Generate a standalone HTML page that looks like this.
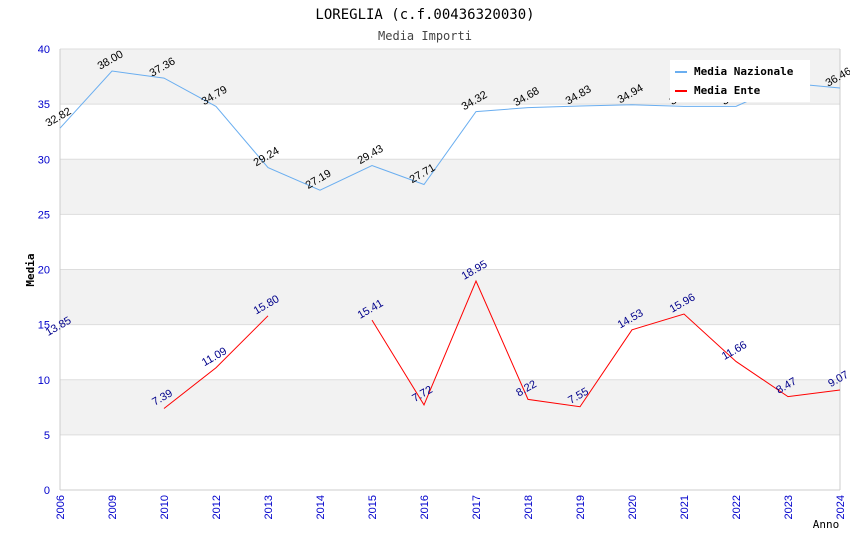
<!DOCTYPE html>
<html><head><meta charset="utf-8"><style>
body{margin:0;background:#fff;}
svg{display:block;font-family:"DejaVu Sans Mono","Liberation Mono",monospace;}
.s{font-family:"Liberation Sans",sans-serif;}
</style></head><body>
<svg id="c" width="850" height="550">
<text x="425" y="19" text-anchor="middle" font-size="14">LOREGLIA (c.f.00436320030)</text>
<text x="425" y="40" text-anchor="middle" font-size="12" fill="#444">Media Importi</text>
<g id="grid"></g><g id="axes"></g><g id="series"></g>
<text x="34" y="270" font-size="11" font-weight="bold" text-anchor="middle" transform="rotate(-90 34 270)">Media</text>
<text x="826" y="528" font-size="11" text-anchor="middle">Anno</text>
<g>
<rect x="670" y="60" width="140" height="42" fill="#fff"/>
<line x1="675" y1="72" x2="687" y2="72" stroke="#6aaef0" stroke-width="2"/>
<text x="694" y="75" font-size="11" font-weight="bold">Media Nazionale</text>
<line x1="675" y1="91" x2="687" y2="91" stroke="#f00" stroke-width="2"/>
<text x="694" y="94" font-size="11" font-weight="bold">Media Ente</text>
</g>
</svg>
<script>
const categories=["2006","2009","2010","2012","2013","2014","2015","2016","2017","2018","2019","2020","2021","2022","2023","2024"];
const nazionale=[32.82,38.00,37.36,34.79,29.24,27.19,29.43,27.71,34.32,34.68,34.83,34.94,34.8,34.8,36.9,36.46];
const ente=[13.85,null,7.39,11.09,15.80,null,15.41,7.72,18.95,8.22,7.55,14.53,15.96,11.66,8.47,9.07];
const yTicks=[0,5,10,15,20,25,30,35,40];
const NS="http://www.w3.org/2000/svg";
const L=60,R=840,T=49,B=490,yMax=40;
const x=i=>L+i*(R-L)/(categories.length-1);
const y=v=>B-v*(B-T)/yMax;
function el(t,a,p){const e=document.createElementNS(NS,t);for(const k in a)e.setAttribute(k,a[k]);p.appendChild(e);return e;}
const grid=document.getElementById('grid'),axes=document.getElementById('axes'),ser=document.getElementById('series');
for(let i=0;i<yTicks.length-1;i++){
 const r=el('rect',{x:L,y:y(yTicks[i+1]),width:R-L,height:y(yTicks[i])-y(yTicks[i+1]),fill:(i%2==1)?'#f2f2f2':'#fff'},grid);
 
 
}
yTicks.forEach(v=>{
 el('line',{x1:L,x2:R,y1:y(v),y2:y(v),stroke:'#ddd'},grid);
 const t=el('text',{x:L-10,y:y(v)+4,'text-anchor':'end','font-size':11,fill:'#00c',class:'s'},axes);t.textContent=v;
 
 
});
el('line',{x1:L,x2:L,y1:T,y2:B,stroke:'#ccc'},axes);
el('line',{x1:R,x2:R,y1:T,y2:B,stroke:'#ccc'},axes);
el('line',{x1:L,x2:R,y1:B,y2:B,stroke:'#ccc'},axes);
categories.forEach((c,i)=>{
 const t=el('text',{x:x(i)+4,y:B+5,'text-anchor':'end','font-size':11,fill:'#00c',class:'s',transform:`rotate(-90 ${x(i)+4} ${B+5})`},axes);t.textContent=c;
 
 
});
function draw(data,color,lc,name){
 let d='',pen=false;
 data.forEach((v,i)=>{if(v==null){pen=false;return;}d+=(pen?'L':'M')+x(i)+' '+y(v)+' ';pen=true;});
 const p=el('path',{d:d,fill:'none',stroke:color,'stroke-width':1},ser);
 
 
 data.forEach((v,i)=>{if(v==null)return;
  const px=x(i),py=y(v)-8;
  const t=el('text',{x:px,y:py,'text-anchor':'middle',class:'s','font-size':11,fill:lc,transform:`rotate(-30 ${px} ${py})`},ser);
  t.textContent=v.toFixed(2);
  
  
 });
}
draw(nazionale,'#6aaef0','#000','nazionale');
draw(ente,'#f00','#00008b','ente');
</script>
</body></html>
